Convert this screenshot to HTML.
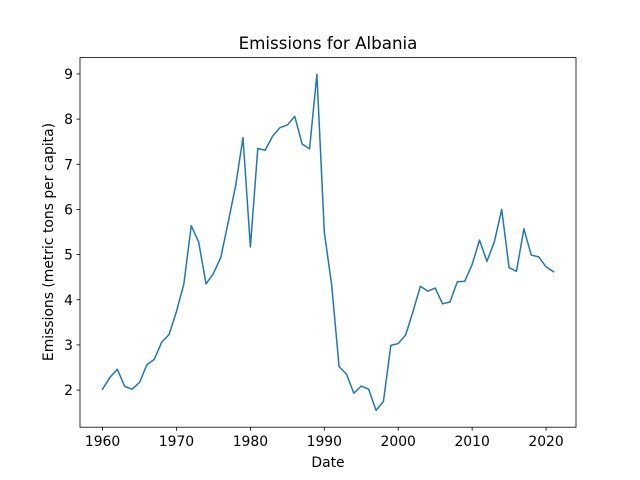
<!DOCTYPE html>
<html><head><meta charset="utf-8"><style>body{margin:0;background:#fff}svg{display:block;font-family:"DejaVu Sans","Liberation Sans",sans-serif}</style></head>
<body>
<svg id="c" width="640" height="480" viewBox="0 0 640 480">
<rect width="640" height="480" fill="#fff"/>
<text x="328" y="49" font-size="16.7" text-anchor="middle">Emissions for Albania</text>
<text x="328" y="467" font-size="13.9" text-anchor="middle">Date</text>
<text transform="translate(53,242) rotate(-90)" font-size="13.9" text-anchor="middle">Emissions (metric tons per capita)</text>
<g id="ax"></g>
</svg>
<script>
const years=[1960,1961,1962,1963,1964,1965,1966,1967,1968,1969,1970,1971,1972,1973,1974,1975,1976,1977,1978,1979,1980,1981,1982,1983,1984,1985,1986,1987,1988,1989,1990,1991,1992,1993,1994,1995,1996,1997,1998,1999,2000,2001,2002,2003,2004,2005,2006,2007,2008,2009,2010,2011,2012,2013,2014,2015,2016,2017,2018,2019,2020,2021];
const emissions=[2.02,2.28,2.46,2.08,2.02,2.17,2.56,2.68,3.06,3.23,3.74,4.35,5.64,5.28,4.35,4.58,4.94,5.72,6.52,7.59,5.17,7.35,7.31,7.62,7.81,7.87,8.06,7.45,7.34,8.99,5.5,4.32,2.52,2.35,1.93,2.09,2.02,1.55,1.75,2.99,3.03,3.22,3.74,4.30,4.19,4.26,3.91,3.95,4.40,4.41,4.78,5.32,4.85,5.28,6.0,4.71,4.63,5.57,4.99,4.95,4.73,4.62];
const xTicks=[1960,1970,1980,1990,2000,2010,2020];
const yTicks=[2,3,4,5,6,7,8,9];
const L=80,R=576,T=57.6,B=427.2;
const xmin=Math.min(...years),xmax=Math.max(...years),xm=(xmax-xmin)*0.05;
const ymin=Math.min(...emissions),ymax=Math.max(...emissions),ym=(ymax-ymin)*0.05;
const X=v=>L+(v-(xmin-xm))*(R-L)/((xmax+xm)-(xmin-xm));
const Y=v=>B-(v-(ymin-ym))*(B-T)/((ymax+ym)-(ymin-ym));
const NS="http://www.w3.org/2000/svg";
const g=document.getElementById('ax');
function mk(t,a,p){const e=document.createElementNS(NS,t);for(const k in a)e.setAttribute(k,a[k]);(p||g).appendChild(e);return e;}
xTicks.forEach(t=>{
 const l=mk('line',{x1:X(t),x2:X(t),y1:B,y2:B+3.5,stroke:'#000','stroke-width':0.8});
 
 
 const tx=mk('text',{x:X(t),y:B+19,'font-size':13.9,'text-anchor':'middle'});tx.textContent=t;
 
 
});
yTicks.forEach(t=>{
 const l=mk('line',{x1:L-3.5,x2:L,y1:Y(t),y2:Y(t),stroke:'#000','stroke-width':0.8});
 
 
 const tx=mk('text',{x:L-7,y:Y(t)+5,'font-size':13.9,'text-anchor':'end'});tx.textContent=t;
 
 
});
const pts=years.map((y,i)=>X(y).toFixed(2)+','+Y(emissions[i]).toFixed(2)).join(' ');
const pl=mk('polyline',{points:pts,fill:'none',stroke:'#1f77b4','stroke-width':1.5,'stroke-linejoin':'round','stroke-linecap':'square'});


const fr=mk('rect',{x:L,y:T,width:R-L,height:B-T,fill:'none',stroke:'#000','stroke-width':0.8});


</script>
</body></html>
